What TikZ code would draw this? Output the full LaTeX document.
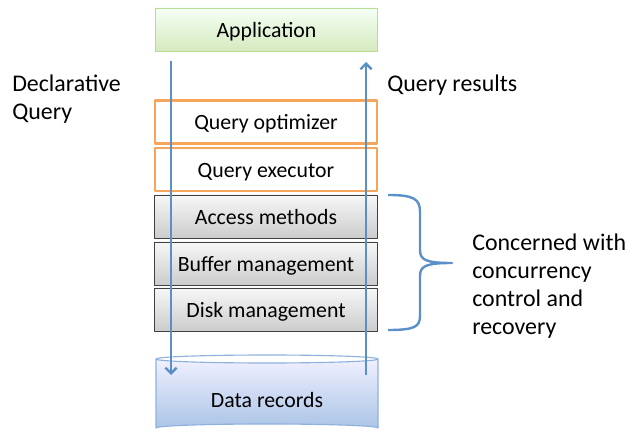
\documentclass[tikz,border=0pt]{standalone}
\usepackage{fontspec}
\setmainfont{Carlito}
\usetikzlibrary{arrows.meta,calc}
\definecolor{flowblue}{HTML}{5B8FC9}
\definecolor{optorange}{HTML}{F7A55A}
\definecolor{appgreen}{HTML}{B9DC93}
\definecolor{diskblue}{HTML}{8FB1DE}

\begin{document}
\begin{tikzpicture}[x=0.025cm,y=-0.025cm,line join=round,
  layer/.style={minimum width=5.55cm,minimum height=1.075cm,inner sep=0pt,text height=12pt,text depth=0.8pt,font=\fontsize{15.5}{18}\selectfont},
  appbox/.style={layer,draw=appgreen,line width=0.7pt,top color=green!4!white!96,bottom color=appgreen!60},
  qbox/.style={layer,draw=optorange,line width=1.6pt,fill=white},
  gbox/.style={layer,draw=black!75,line width=0.7pt,top color=black!3,bottom color=black!20},
  flow/.style={draw=flowblue,line width=1.7pt,-{Straight Barb[length=4pt,width=8pt,line width=1.7pt]}},
  side/.style={font=\fontsize{17}{19.9}\selectfont,align=left,inner sep=0pt}]
\useasboundingbox (0,0) rectangle (633,433);
% layers
\node[appbox] (app) at (266.5,29.5) {Application};
\node[qbox] (opt) at (266,122) {Query optimizer};
\node[qbox] (exe) at (266,169.5) {Query executor};
\node[gbox] (acc) at (266,216.5) {Access methods};
\node[gbox] (buf) at (266,263.5) {Buffer management};
\node[gbox] (dsk) at (266,309.5) {Disk management};
% storage
\draw[draw=diskblue,line width=0.8pt,top color=blue!6!white,bottom color=diskblue!75]
  (156,359) -- (156,428) arc[start angle=180,end angle=360,x radius=111,y radius=4]
  -- (378,359) arc[start angle=0,end angle=180,x radius=111,y radius=4] -- cycle;
\draw[draw=diskblue,line width=0.8pt] (156,359) arc[start angle=180,end angle=360,x radius=111,y radius=4];
\node[font=\fontsize{15.5}{18}\selectfont] (rec) at (267,400) {Data records};
% flows
\coordinate (qin) at (171,61);
\coordinate (qdown) at (171,375);
\coordinate (rup) at (366,62);
\coordinate (rbot) at (366,375);
\draw[flow] (qin) -- (qdown);
\draw[flow] (rbot) -- (rup);
% labels
\node[side,anchor=north west] (decl) at (12,75) {Declarative\\Query};
\node[side,anchor=north west] (res) at (387,75) {Query results};
% brace
\coordinate (bt) at (388,195);
\coordinate (bb) at (388,330);
\coordinate (tip) at (452,263);
\draw[flowblue,line width=1.7pt] (bt) .. controls (414,195) and (420,199) .. (420,212) -- (420,250)
  .. controls (420,260) and (426,263) .. (tip) .. controls (426,263) and (420,266) .. (420,276)
  -- (420,316) .. controls (420,327) and (414,330) .. (bb);
\node[side,anchor=north west] (conc) at (472,234) {Concerned with\\concurrency\\control and\\recovery};
\end{tikzpicture}
\end{document}
